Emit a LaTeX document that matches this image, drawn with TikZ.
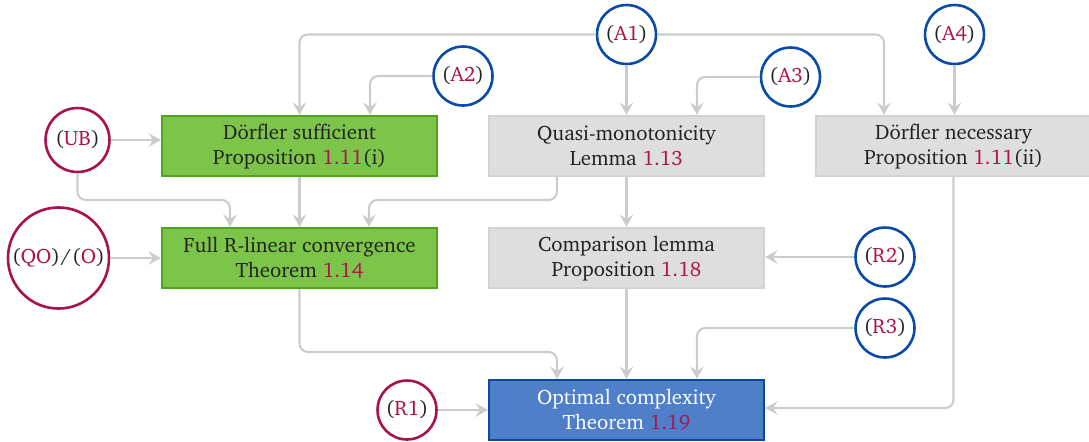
\documentclass[tikz,border=0pt]{standalone}
\usepackage[T1]{fontenc}
\usepackage{charter}
\usetikzlibrary{arrows.meta,calc}
\definecolor{gfill}{HTML}{7DC44B}
\definecolor{gborder}{HTML}{4FA61E}
\definecolor{grfill}{HTML}{DEDEDE}
\definecolor{grborder}{HTML}{D2D2D2}
\definecolor{bfill}{HTML}{4E7FC8}
\definecolor{bborder}{HTML}{0B48A2}
\definecolor{cblue}{HTML}{0A4BAA}
\definecolor{cred}{HTML}{A8134F}
\definecolor{linkred}{HTML}{B0124E}
\definecolor{arrgray}{HTML}{CCCCCC}
\definecolor{txt}{HTML}{222222}
\newcommand{\lk}[1]{\textcolor{linkred}{#1}}
\tikzset{
  box/.style={rectangle, minimum width=132pt, minimum height=28.8pt, align=center, inner sep=0pt, line width=1pt, text=txt},
  gbox/.style={box, fill=gfill, draw=gborder},
  graybox/.style={box, fill=grfill, draw=grborder},
  bluebox/.style={box, fill=bfill, draw=bborder, text=white},
  circ/.style={circle, line width=1.25pt, minimum size=28.3pt, inner sep=0pt, fill=white, text=txt},
  bcirc/.style={circ, draw=cblue},
  rcirc/.style={circ, draw=cred},
  arr/.style={draw=arrgray, line width=1pt, -{Stealth[length=6pt,width=6.5pt,inset=2.2pt]}, rounded corners=4pt},
}
\begin{document}
\begin{tikzpicture}[x=0.48pt, y=-0.48pt]
\useasboundingbox (0,0) rectangle (1089,441);
% boxes
\node[gbox] (dsuf) at (299.5,146) {D\"orfler sufficient\\Proposition \lk{1.11}(i)};
\node[gbox] (full) at (299.5,258) {Full R-linear convergence\\Theorem \lk{1.14}};
\node[graybox] (quasi) at (626.5,146) {Quasi-monotonicity\\Lemma \lk{1.13}};
\node[graybox] (dnec) at (953.5,146) {D\"orfler necessary\\Proposition \lk{1.11}(ii)};
\node[graybox] (comp) at (626.5,258) {Comparison lemma\\Proposition \lk{1.18}};
\node[bluebox] (opt) at (626.5,410) {Optimal complexity\\Theorem \lk{1.19}};
% circles
\node[bcirc] (A1) at (626.5,34.5) {(\lk{A1})};
\node[bcirc] (A2) at (463,76) {(\lk{A2})};
\node[bcirc] (A3) at (790.5,77) {(\lk{A3})};
\node[bcirc] (A4) at (954.5,34.5) {(\lk{A4})};
\node[rcirc, minimum size=30.7pt] (UB) at (77.5,140) {(\lk{UB})};
\node[rcirc, minimum size=48.5pt] (QO) at (58.5,258) {(\lk{QO})\kern0.5pt/\kern0.5pt(\lk{O})};
\node[bcirc] (R2) at (885,257) {(\lk{R2})};
\node[bcirc] (R3) at (885,328) {(\lk{R3})};
\node[rcirc] (R1) at (407,410) {(\lk{R1})};
% connectors
\draw[arr] (A1.south) -- (quasi.north);
\draw[arr] (A1.west) -| (dsuf.north);
\draw[arr] (A1.east) -| ($(dnec.north)+(-69.5,0)$);
\draw[arr] (A2.west) -| ($(dsuf.north)+(70.5,0)$);
\draw[arr] (A3.west) -| ($(quasi.north)+(70.5,0)$);
\draw[arr] (A4.south) -- (A4.south |- dnec.north);
\draw[arr] (UB.east) -- (UB.east -| dsuf.west);
\draw[arr] (UB.south) |- ($(full.north)+(-69.5,-27)$) -- ($(full.north)+(-69.5,0)$);
\draw[arr] (dsuf.south) -- (full.north);
\draw[arr] ($(quasi.south)+(-69.5,0)$) |- ($(full.north)+(69.5,-27)$) -- ($(full.north)+(69.5,0)$);
\draw[arr] (quasi.south) -- (comp.north);
\draw[arr] (QO.east) -- (full.west);
\draw[arr] (R2.west) -- (R2.west -| comp.east);
\draw[arr] (full.south) |- ($(opt.north)+(-69.5,-27)$) -- ($(opt.north)+(-69.5,0)$);
\draw[arr] (comp.south) -- (opt.north);
\draw[arr] (R3.west) -| ($(opt.north)+(70.5,0)$);
\draw[arr] (dnec.south) |- ($(opt.east)+(0,-2)$);
\draw[arr] (R1.east) -- (opt.west);
\end{tikzpicture}
\end{document}
